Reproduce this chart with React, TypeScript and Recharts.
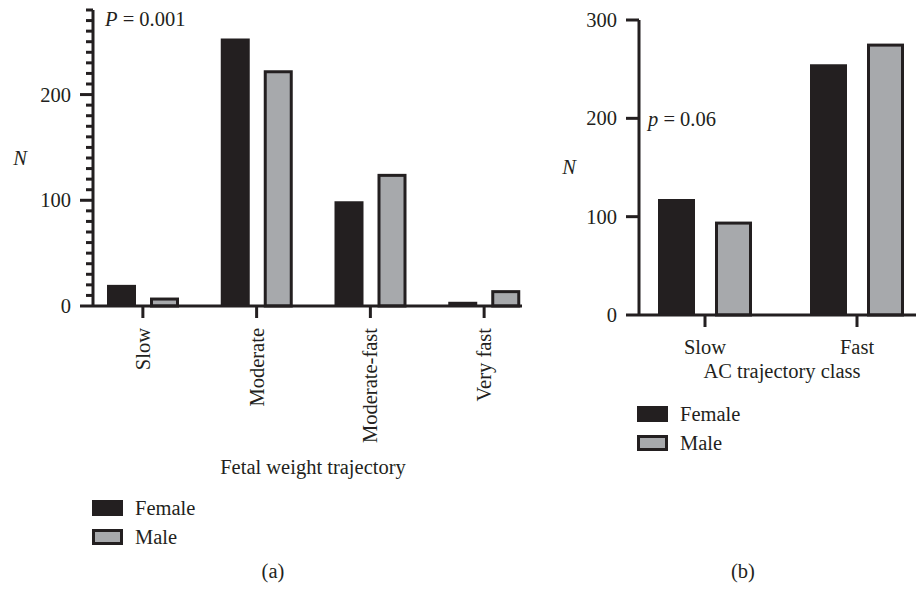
import React from 'react';
import { BarChart, Bar, XAxis, YAxis, Legend, Label } from 'recharts';

// panel (a): fetal weight trajectory
const weightClasses = ['Slow', 'Moderate', 'Moderate-fast', 'Very fast'];
const weightFemale = [20, 253, 99, 4];
const weightMale = [8, 223, 125, 15];
const weightTicks = [0, 10, 20, 30, 40, 50, 60, 70, 80, 90, 100, 110, 120, 130, 140, 150, 160, 170, 180, 190, 200, 210, 220, 230, 240, 250, 260, 270, 280];
const weightLabelled = [0, 100, 200];

// panel (b): AC trajectory class
const acClasses = ['Slow', 'Fast'];
const acFemale = [118, 255];
const acMale = [95, 276];
const acTicks = [0, 100, 200, 300];

const seriesNames = ['Female', 'Male'];

const INK = '#231f20';
const GREY = '#a7a9ac';
const FONT = '"Liberation Serif", "Times New Roman", serif';
const FS = 20.5;
const LEG_PAD = 6;

const weightData = weightClasses.map((name, i) => ({ name, female: weightFemale[i], male: weightMale[i] }));
const acData = acClasses.map((name, i) => ({ name, female: acFemale[i], male: acMale[i] }));

const MaleBar = (props: any) => {
  const { x, y, width, height } = props;
  if (!height || height <= 0) return <g />;
  return (
    <rect
      x={x + 1.5}
      y={y + 1.5}
      width={Math.max(width - 3, 0)}
      height={Math.max(height - 1.5, 0)}
      fill={GREY}
      stroke={INK}
      strokeWidth={3}
    />
  );
};

// y ticks: long tick + number for labelled values, short tick for the rest
const makeYTick = (labelled: number[], gap: number) => (props: any) => {
  const { x, y, payload } = props;
  const axisX = x + 13;
  const major = labelled.includes(payload.value);
  return (
    <g>
      <line x1={axisX - (major ? 13 : 7)} x2={axisX} y1={y} y2={y} stroke={INK} strokeWidth={3} />
      {major && (
        <text x={axisX - 13 - gap} y={y} dy="0.34em" textAnchor="end" fill={INK} fontSize={FS} fontFamily={FONT}>
          {payload.value}
        </text>
      )}
    </g>
  );
};

const RotatedTick = (props: any) => {
  const { x, y, payload } = props;
  return (
    <text
      x={x}
      y={y}
      transform={`rotate(-90, ${x}, ${y})`}
      textAnchor="end"
      dominantBaseline="central"
      fill={INK}
      fontSize={FS}
      fontFamily={FONT}
    >
      {payload.value}
    </text>
  );
};

const LegendBox = (props: any) => {
  const items = props.payload || [];
  return (
    <svg width={150} height={62} style={{ display: 'block' }}>
      {items.map((entry: any, i: number) => {
        const rowY = LEG_PAD + i * 29;
        const isMale = entry.dataKey === 'male';
        return (
          <g key={entry.value}>
            {isMale ? (
              <rect x={1.5} y={rowY + 1.5} width={28} height={13} fill={GREY} stroke={INK} strokeWidth={3} />
            ) : (
              <rect x={0} y={rowY} width={31} height={16} fill={INK} />
            )}
            <text x={43} y={rowY + 15} fill={INK} fontSize={FS} fontFamily={FONT}>
              {entry.value}
            </text>
          </g>
        );
      })}
    </svg>
  );
};

const axisStroke = { stroke: INK, strokeWidth: 3 };

const yLabel = (dx: number) => (props: any) => {
  const vb = props.viewBox;
  return (
    <text x={vb.x + dx} y={vb.y + vb.height / 2} dy="0.33em" textAnchor="middle" fill={INK} fontSize={FS} fontFamily={FONT} fontStyle="italic">
      N
    </text>
  );
};

const xLabel = (text: string, dy: number) => (props: any) => {
  const vb = props.viewBox;
  return (
    <text x={vb.x + vb.width / 2 - 4} y={vb.y + dy} textAnchor="middle" fill={INK} fontSize={FS} fontFamily={FONT}>
      {text}
    </text>
  );
};

export default function App() {
  return (
    <div style={{ position: 'absolute', left: 0, top: 0, width: 916, height: 590, background: '#fff', overflow: 'hidden', fontFamily: FONT }}>
      <div style={{ position: 'absolute', left: 0, top: 0, width: 522, height: 590, overflow: 'hidden' }}>
        <BarChart width={541} height={590} data={weightData} margin={{ top: 10, right: 0, bottom: 0, left: 0 }} barCategoryGap={21} barGap={14}>
          <XAxis
            dataKey="name"
            height={284}
            interval={0}
            padding={{ left: -7, right: 0 }}
            axisLine={axisStroke}
            tickLine={axisStroke}
            tickSize={12}
            tickMargin={10}
            tick={<RotatedTick />}
          >
            <Label content={xLabel('Fetal weight trajectory', 168)} />
          </XAxis>
          <YAxis
            type="number"
            width={93}
            domain={[0, 280]}
            ticks={weightTicks}
            interval={0}
            axisLine={axisStroke}
            tickLine={false}
            tickSize={13}
            tickMargin={0}
            tick={makeYTick(weightLabelled, 9)}
          >
            <Label content={yLabel(20)} />
          </YAxis>
          <Legend
            layout="vertical"
            align="center"
            verticalAlign="middle"
            content={LegendBox}
            wrapperStyle={{ left: 92, top: 500 - LEG_PAD, width: 150, height: 62 }}
          />
          <Bar dataKey="female" name={seriesNames[0]} fill={INK} isAnimationActive={false} />
          <Bar dataKey="male" name={seriesNames[1]} fill={GREY} shape={MaleBar} isAnimationActive={false} />
        </BarChart>
      </div>

      <div style={{ position: 'absolute', left: 520, top: 0, width: 396, height: 590, overflow: 'hidden' }}>
        <BarChart width={413} height={590} data={acData} margin={{ top: 20, right: 0, bottom: 0, left: 0 }} barCategoryGap={29} barGap={20}>
          <XAxis
            dataKey="name"
            height={275}
            interval={0}
            padding={{ left: -10, right: 0 }}
            axisLine={axisStroke}
            tickLine={axisStroke}
            tickSize={12}
            tickMargin={12}
            tick={{ fill: INK, fontSize: FS, fontFamily: FONT }}
          >
            <Label content={xLabel('AC trajectory class', 63)} />
          </XAxis>
          <YAxis
            type="number"
            width={119}
            domain={[0, 300]}
            ticks={acTicks}
            interval={0}
            axisLine={axisStroke}
            tickLine={false}
            tickSize={13}
            tickMargin={0}
            tick={makeYTick(acTicks, 9)}
          >
            <Label content={yLabel(49)} />
          </YAxis>
          <Legend
            layout="vertical"
            align="center"
            verticalAlign="middle"
            content={LegendBox}
            wrapperStyle={{ left: 117, top: 406 - LEG_PAD, width: 150, height: 62 }}
          />
          <Bar dataKey="female" name={seriesNames[0]} fill={INK} isAnimationActive={false} />
          <Bar dataKey="male" name={seriesNames[1]} fill={GREY} shape={MaleBar} isAnimationActive={false} />
        </BarChart>
      </div>

      <svg width={916} height={590} style={{ position: 'absolute', left: 0, top: 0, pointerEvents: 'none' }}>
        <g fill={INK} fontSize={FS} fontFamily={FONT}>
          <text x={105} y={25.5}>
            <tspan fontStyle="italic">P</tspan> = 0.001
          </text>
          <text x={648} y={126}>
            <tspan fontStyle="italic">p</tspan> = 0.06
          </text>
          <text x={273} y={578} textAnchor="middle">(a)</text>
          <text x={743} y={578} textAnchor="middle">(b)</text>
        </g>
      </svg>
    </div>
  );
}
